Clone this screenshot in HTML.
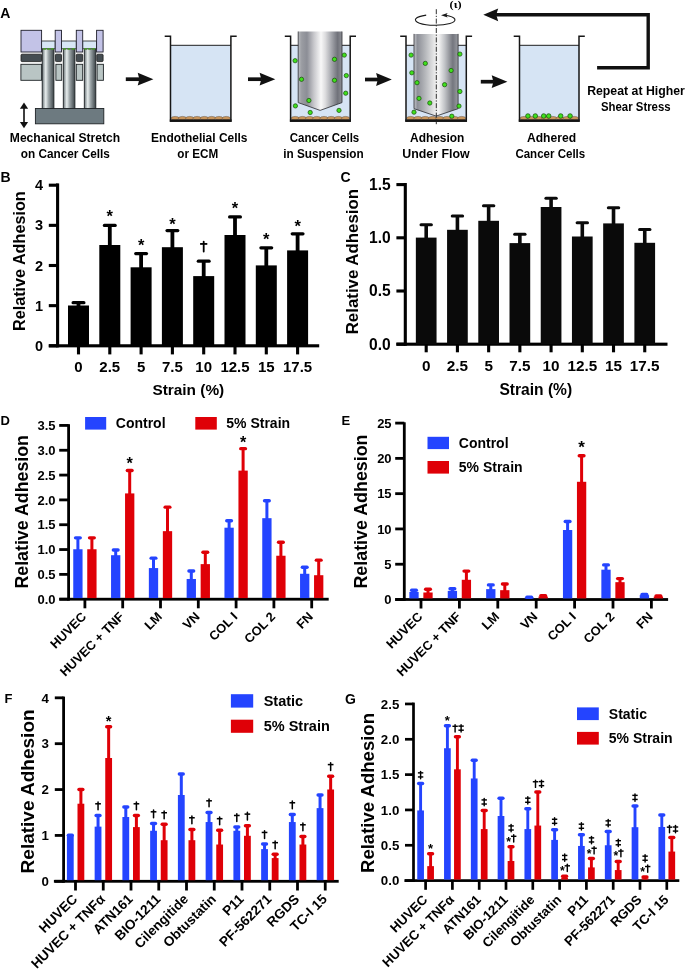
<!DOCTYPE html><html><head><meta charset="utf-8"><style>html,body{margin:0;padding:0;background:#fff;}svg{display:block;font-family:"Liberation Sans",sans-serif;}</style></head><body>
<svg width="685" height="975" viewBox="0 0 685 975" style="will-change:transform" font-family="Liberation Sans" font-weight="bold">
<defs>
<linearGradient id="gcyl" x1="0" x2="1" y1="0" y2="0"><stop offset="0" stop-color="#6b7478"/><stop offset="0.3" stop-color="#e8eeee"/><stop offset="0.55" stop-color="#9aa3a6"/><stop offset="1" stop-color="#3c4448"/></linearGradient>
<linearGradient id="gcyl2" x1="0" x2="1" y1="0" y2="0"><stop offset="0" stop-color="#b8babe"/><stop offset="0.08" stop-color="#9a9ca2"/><stop offset="0.2" stop-color="#8c8e96"/><stop offset="0.36" stop-color="#c8c8cc"/><stop offset="0.52" stop-color="#f8f8f8"/><stop offset="0.62" stop-color="#dcdcde"/><stop offset="0.76" stop-color="#a4a6ac"/><stop offset="0.9" stop-color="#70727a"/><stop offset="1" stop-color="#8e9096"/></linearGradient>
<linearGradient id="gcyl3" x1="0" x2="1" y1="0" y2="0"><stop offset="0" stop-color="#c4c6ca"/><stop offset="0.08" stop-color="#8e9098"/><stop offset="0.25" stop-color="#b4b6ba"/><stop offset="0.48" stop-color="#ececec"/><stop offset="0.56" stop-color="#f4f4f4"/><stop offset="0.7" stop-color="#c0c2c6"/><stop offset="0.88" stop-color="#74767e"/><stop offset="1" stop-color="#9a9ca2"/></linearGradient>
</defs>
<rect width="685" height="975" fill="#fff"/>
<text x="0.2" y="17.5" font-size="14" text-anchor="start" >A</text>
<rect x="42.2" y="48.5" width="11.7" height="60.5" fill="url(#gcyl)" stroke="#1e2326" stroke-width="0.9"/>
<rect x="63.3" y="48.5" width="11.6" height="60.5" fill="url(#gcyl)" stroke="#1e2326" stroke-width="0.9"/>
<rect x="84.3" y="48.5" width="11.5" height="60.5" fill="url(#gcyl)" stroke="#1e2326" stroke-width="0.9"/>
<rect x="41.6" y="41" width="13.6" height="7.8" fill="#d8e6f5" stroke="#222" stroke-width="0.8"/>
<ellipse cx="44.6" cy="48.9" rx="1.6" ry="0.9" fill="#4a9a2a"/>
<ellipse cx="48.4" cy="48.9" rx="1.6" ry="0.9" fill="#4a9a2a"/>
<ellipse cx="52.2" cy="48.9" rx="1.6" ry="0.9" fill="#4a9a2a"/>
<rect x="61.5" y="41" width="14.8" height="7.8" fill="#d8e6f5" stroke="#222" stroke-width="0.8"/>
<ellipse cx="64.5" cy="48.9" rx="1.6" ry="0.9" fill="#4a9a2a"/>
<ellipse cx="68.9" cy="48.9" rx="1.6" ry="0.9" fill="#4a9a2a"/>
<ellipse cx="73.3" cy="48.9" rx="1.6" ry="0.9" fill="#4a9a2a"/>
<rect x="82.7" y="41" width="13.9" height="7.8" fill="#d8e6f5" stroke="#222" stroke-width="0.8"/>
<ellipse cx="85.7" cy="48.9" rx="1.6" ry="0.9" fill="#4a9a2a"/>
<ellipse cx="89.65" cy="48.9" rx="1.6" ry="0.9" fill="#4a9a2a"/>
<ellipse cx="93.6" cy="48.9" rx="1.6" ry="0.9" fill="#4a9a2a"/>
<rect x="21" y="30.3" width="20.6" height="21.7" fill="#c3c3e7" stroke="#1e1e2a" stroke-width="0.9"/>
<rect x="55.2" y="30.3" width="6.3" height="21.7" fill="#c3c3e7" stroke="#1e1e2a" stroke-width="0.9"/>
<rect x="76.3" y="30.3" width="6.4" height="21.7" fill="#c3c3e7" stroke="#1e1e2a" stroke-width="0.9"/>
<rect x="96.6" y="30.3" width="6.5" height="21.7" fill="#c3c3e7" stroke="#1e1e2a" stroke-width="0.9"/>
<rect x="21" y="54.2" width="20.6" height="7.4" fill="#454d52" stroke="#1a1a1a" stroke-width="0.8" rx="1"/>
<rect x="55.4" y="54.2" width="6.1" height="7.4" fill="#454d52" stroke="#1a1a1a" stroke-width="0.8" rx="1"/>
<rect x="76.3" y="54.2" width="6.4" height="7.4" fill="#454d52" stroke="#1a1a1a" stroke-width="0.8" rx="1"/>
<rect x="96.8" y="54.2" width="6.3" height="7.4" fill="#454d52" stroke="#1a1a1a" stroke-width="0.8" rx="1"/>
<rect x="20.9" y="64.3" width="20.7" height="16" fill="#b9c5c4" stroke="#1e2326" stroke-width="0.9"/>
<rect x="55.9" y="64.3" width="5.8" height="16" fill="#b9c5c4" stroke="#1e2326" stroke-width="0.9"/>
<rect x="76.3" y="64.3" width="6.4" height="16" fill="#b9c5c4" stroke="#1e2326" stroke-width="0.9"/>
<rect x="97.1" y="64.3" width="6.3" height="16" fill="#b9c5c4" stroke="#1e2326" stroke-width="0.9"/>
<rect x="35.4" y="108.5" width="68.4" height="15.3" fill="#6d7a80" stroke="#1e2326" stroke-width="0.9"/>
<rect x="23.2" y="106" width="1.6" height="19" fill="#111" />
<path d="M24,102.6 L19.9,108.8 L28.1,108.8 Z" fill="#111"/>
<path d="M24,128.2 L19.9,122 L28.1,122 Z" fill="#111"/>
<text x="9.8" y="141.6" font-size="12.8" textLength="110.4" lengthAdjust="spacingAndGlyphs">Mechanical Stretch</text>
<text x="20.7" y="157.6" font-size="12.8" textLength="89.2" lengthAdjust="spacingAndGlyphs">on Cancer Cells</text>
<rect x="125.8" y="77.35" width="14.1" height="3.7" fill="#111" />
<path d="M153.4,79.2 L137.7,72.8 L139.4,79.2 L137.7,85.6 Z" fill="#111"/>
<rect x="170.5" y="45.3" width="60.4" height="75.7" fill="#d6e4f4" />
<line x1="170.5" y1="45.3" x2="230.9" y2="45.3" stroke="#1e1e1e" stroke-width="1" stroke-linecap="butt"/>
<ellipse cx="175.15" cy="118.3" rx="4.05" ry="1.9" fill="#c8955c" stroke="#5b4630" stroke-width="0.45"/>
<ellipse cx="182.45" cy="118.3" rx="4.05" ry="1.9" fill="#c8955c" stroke="#5b4630" stroke-width="0.45"/>
<ellipse cx="189.75" cy="118.3" rx="4.05" ry="1.9" fill="#c8955c" stroke="#5b4630" stroke-width="0.45"/>
<ellipse cx="197.05" cy="118.3" rx="4.05" ry="1.9" fill="#c8955c" stroke="#5b4630" stroke-width="0.45"/>
<ellipse cx="204.35" cy="118.3" rx="4.05" ry="1.9" fill="#c8955c" stroke="#5b4630" stroke-width="0.45"/>
<ellipse cx="211.65" cy="118.3" rx="4.05" ry="1.9" fill="#c8955c" stroke="#5b4630" stroke-width="0.45"/>
<ellipse cx="218.95" cy="118.3" rx="4.05" ry="1.9" fill="#c8955c" stroke="#5b4630" stroke-width="0.45"/>
<ellipse cx="226.25" cy="118.3" rx="4.05" ry="1.9" fill="#c8955c" stroke="#5b4630" stroke-width="0.45"/>
<path d="M164.7,36.2 H170.5 V121 H230.9 V36.2 H236.7" fill="none" stroke="#161616" stroke-width="1.5"/>
<rect x="169.8" y="119.4" width="61.8" height="2.5" fill="#141414" />
<text x="151.1" y="141.5" font-size="12.8" textLength="96.4" lengthAdjust="spacingAndGlyphs">Endothelial Cells</text>
<text x="177.3" y="157.5" font-size="12.8" textLength="41" lengthAdjust="spacingAndGlyphs">or ECM</text>
<rect x="248" y="77.35" width="13.8" height="3.7" fill="#111" />
<path d="M275.3,79.2 L259.6,72.8 L261.3,79.2 L259.6,85.6 Z" fill="#111"/>
<rect x="290.6" y="45.3" width="59.6" height="75.7" fill="#d6e4f4" />
<line x1="290.6" y1="45.3" x2="350.2" y2="45.3" stroke="#1e1e1e" stroke-width="1" stroke-linecap="butt"/>
<ellipse cx="295.2" cy="118.3" rx="4" ry="1.9" fill="#c8955c" stroke="#5b4630" stroke-width="0.45"/>
<ellipse cx="302.4" cy="118.3" rx="4" ry="1.9" fill="#c8955c" stroke="#5b4630" stroke-width="0.45"/>
<ellipse cx="309.6" cy="118.3" rx="4" ry="1.9" fill="#c8955c" stroke="#5b4630" stroke-width="0.45"/>
<ellipse cx="316.8" cy="118.3" rx="4" ry="1.9" fill="#c8955c" stroke="#5b4630" stroke-width="0.45"/>
<ellipse cx="324" cy="118.3" rx="4" ry="1.9" fill="#c8955c" stroke="#5b4630" stroke-width="0.45"/>
<ellipse cx="331.2" cy="118.3" rx="4" ry="1.9" fill="#c8955c" stroke="#5b4630" stroke-width="0.45"/>
<ellipse cx="338.4" cy="118.3" rx="4" ry="1.9" fill="#c8955c" stroke="#5b4630" stroke-width="0.45"/>
<ellipse cx="345.6" cy="118.3" rx="4" ry="1.9" fill="#c8955c" stroke="#5b4630" stroke-width="0.45"/>
<path d="M284.8,36.2 H290.6 V121 H350.2 V36.2 H356" fill="none" stroke="#161616" stroke-width="1.5"/>
<rect x="289.9" y="119.4" width="61" height="2.5" fill="#141414" />
<path d="M298.2,31.5 H342 V102.6 L320.1,110.4 L298.2,102.6 Z" fill="url(#gcyl2)"/>
<path d="M298.2,31.5 V102.6 L320.1,110.4 L342,102.6 V31.5" fill="none" stroke="#2a2a2e" stroke-width="0.8"/>
<circle cx="295.1" cy="60.7" r="2.15" fill="#3fe01c" stroke="#184a0c" stroke-width="0.7"/>
<circle cx="301.5" cy="79.3" r="2.15" fill="#3fe01c" stroke="#184a0c" stroke-width="0.7"/>
<circle cx="308.9" cy="100.5" r="2.15" fill="#3fe01c" stroke="#184a0c" stroke-width="0.7"/>
<circle cx="295.4" cy="105.9" r="2.15" fill="#3fe01c" stroke="#184a0c" stroke-width="0.7"/>
<circle cx="310.2" cy="112.5" r="2.15" fill="#3fe01c" stroke="#184a0c" stroke-width="0.7"/>
<circle cx="334.5" cy="59.3" r="2.15" fill="#3fe01c" stroke="#184a0c" stroke-width="0.7"/>
<circle cx="334.5" cy="80.3" r="2.15" fill="#3fe01c" stroke="#184a0c" stroke-width="0.7"/>
<circle cx="344.3" cy="55.1" r="2.15" fill="#3fe01c" stroke="#184a0c" stroke-width="0.7"/>
<circle cx="346.3" cy="75.6" r="2.15" fill="#3fe01c" stroke="#184a0c" stroke-width="0.7"/>
<circle cx="345.7" cy="93.2" r="2.15" fill="#3fe01c" stroke="#184a0c" stroke-width="0.7"/>
<circle cx="339" cy="110.4" r="2.15" fill="#3fe01c" stroke="#184a0c" stroke-width="0.7"/>
<text x="289.8" y="141.6" font-size="12.8" textLength="69.4" lengthAdjust="spacingAndGlyphs">Cancer Cells</text>
<text x="283.15" y="157.6" font-size="12.8" textLength="80.5" lengthAdjust="spacingAndGlyphs">in Suspension</text>
<rect x="365" y="77.65" width="13.3" height="3.7" fill="#111" />
<path d="M391.8,79.5 L376.1,73.1 L377.8,79.5 L376.1,85.9 Z" fill="#111"/>
<rect x="406" y="45.3" width="60.3" height="75.7" fill="#d6e4f4" />
<line x1="406" y1="45.3" x2="466.3" y2="45.3" stroke="#1e1e1e" stroke-width="1" stroke-linecap="butt"/>
<ellipse cx="410.64" cy="118.3" rx="4.04" ry="1.9" fill="#c8955c" stroke="#5b4630" stroke-width="0.45"/>
<ellipse cx="417.93" cy="118.3" rx="4.04" ry="1.9" fill="#c8955c" stroke="#5b4630" stroke-width="0.45"/>
<ellipse cx="425.22" cy="118.3" rx="4.04" ry="1.9" fill="#c8955c" stroke="#5b4630" stroke-width="0.45"/>
<ellipse cx="432.51" cy="118.3" rx="4.04" ry="1.9" fill="#c8955c" stroke="#5b4630" stroke-width="0.45"/>
<ellipse cx="439.79" cy="118.3" rx="4.04" ry="1.9" fill="#c8955c" stroke="#5b4630" stroke-width="0.45"/>
<ellipse cx="447.08" cy="118.3" rx="4.04" ry="1.9" fill="#c8955c" stroke="#5b4630" stroke-width="0.45"/>
<ellipse cx="454.37" cy="118.3" rx="4.04" ry="1.9" fill="#c8955c" stroke="#5b4630" stroke-width="0.45"/>
<ellipse cx="461.66" cy="118.3" rx="4.04" ry="1.9" fill="#c8955c" stroke="#5b4630" stroke-width="0.45"/>
<path d="M400.2,36.2 H406 V121 H466.3 V36.2 H472.1" fill="none" stroke="#161616" stroke-width="1.5"/>
<rect x="405.3" y="119.4" width="61.7" height="2.5" fill="#141414" />
<path d="M414,33.9 H458.1 V108.7 L436.1,116.1 L414,108.7 Z" fill="url(#gcyl3)"/>
<path d="M414,33.9 V108.7 L436.1,116.1 L458.1,108.7 V33.9" fill="none" stroke="#2a2a2e" stroke-width="0.8"/>
<circle cx="411.1" cy="55.1" r="2.15" fill="#3fe01c" stroke="#184a0c" stroke-width="0.7"/>
<circle cx="411.8" cy="72.8" r="2.15" fill="#3fe01c" stroke="#184a0c" stroke-width="0.7"/>
<circle cx="417" cy="82.7" r="2.15" fill="#3fe01c" stroke="#184a0c" stroke-width="0.7"/>
<circle cx="425.3" cy="63.4" r="2.15" fill="#3fe01c" stroke="#184a0c" stroke-width="0.7"/>
<circle cx="419" cy="98.4" r="2.15" fill="#3fe01c" stroke="#184a0c" stroke-width="0.7"/>
<circle cx="429.8" cy="103" r="2.15" fill="#3fe01c" stroke="#184a0c" stroke-width="0.7"/>
<circle cx="414" cy="112.2" r="2.15" fill="#3fe01c" stroke="#184a0c" stroke-width="0.7"/>
<circle cx="444.6" cy="84.7" r="2.15" fill="#3fe01c" stroke="#184a0c" stroke-width="0.7"/>
<circle cx="451.1" cy="70.5" r="2.15" fill="#3fe01c" stroke="#184a0c" stroke-width="0.7"/>
<circle cx="459.9" cy="54.1" r="2.15" fill="#3fe01c" stroke="#184a0c" stroke-width="0.7"/>
<circle cx="459.9" cy="91.5" r="2.15" fill="#3fe01c" stroke="#184a0c" stroke-width="0.7"/>
<circle cx="459" cy="106.1" r="2.15" fill="#3fe01c" stroke="#184a0c" stroke-width="0.7"/>
<circle cx="451.8" cy="116.2" r="2.15" fill="#3fe01c" stroke="#184a0c" stroke-width="0.7"/>
<line x1="436.3" y1="9.2" x2="436.3" y2="124.2" stroke="#1a1a1a" stroke-width="0.9" stroke-dasharray="5,1.6,1.2,1.6"/>
<path d="M426.2,15.1 A19.8,5.4 0 1 0 445.5,15.3" fill="none" stroke="#1a1a1a" stroke-width="1.1"/>
<path d="M441.0,15.2 L447.6,12.9 L446.3,15.3 L447.6,17.6 Z" fill="#1a1a1a"/>
<text x="449.6" y="8.3" font-size="10" font-family="Liberation Serif" font-weight="bold" textLength="12" lengthAdjust="spacingAndGlyphs">(ι)</text>
<text x="410.05" y="141.8" font-size="12.8" textLength="54.3" lengthAdjust="spacingAndGlyphs">Adhesion</text>
<text x="402.2" y="157.8" font-size="12.8" textLength="67.4" lengthAdjust="spacingAndGlyphs">Under Flow</text>
<rect x="480.8" y="79.85" width="13.1" height="3.7" fill="#111" />
<path d="M507.4,81.7 L491.7,75.3 L493.4,81.7 L491.7,88.1 Z" fill="#111"/>
<rect x="519.5" y="45.3" width="59.5" height="75.7" fill="#d6e4f4" />
<line x1="519.5" y1="45.3" x2="579" y2="45.3" stroke="#1e1e1e" stroke-width="1" stroke-linecap="butt"/>
<ellipse cx="524.09" cy="118.3" rx="3.99" ry="1.9" fill="#c8955c" stroke="#5b4630" stroke-width="0.45"/>
<ellipse cx="531.28" cy="118.3" rx="3.99" ry="1.9" fill="#c8955c" stroke="#5b4630" stroke-width="0.45"/>
<ellipse cx="538.47" cy="118.3" rx="3.99" ry="1.9" fill="#c8955c" stroke="#5b4630" stroke-width="0.45"/>
<ellipse cx="545.66" cy="118.3" rx="3.99" ry="1.9" fill="#c8955c" stroke="#5b4630" stroke-width="0.45"/>
<ellipse cx="552.84" cy="118.3" rx="3.99" ry="1.9" fill="#c8955c" stroke="#5b4630" stroke-width="0.45"/>
<ellipse cx="560.03" cy="118.3" rx="3.99" ry="1.9" fill="#c8955c" stroke="#5b4630" stroke-width="0.45"/>
<ellipse cx="567.22" cy="118.3" rx="3.99" ry="1.9" fill="#c8955c" stroke="#5b4630" stroke-width="0.45"/>
<ellipse cx="574.41" cy="118.3" rx="3.99" ry="1.9" fill="#c8955c" stroke="#5b4630" stroke-width="0.45"/>
<path d="M513.7,36.2 H519.5 V121 H579 V36.2 H584.8" fill="none" stroke="#161616" stroke-width="1.5"/>
<rect x="518.8" y="119.4" width="60.9" height="2.5" fill="#141414" />
<circle cx="527.9" cy="116" r="2.3" fill="#3fe01c" stroke="#184a0c" stroke-width="0.7"/>
<circle cx="535.3" cy="116" r="2.3" fill="#3fe01c" stroke="#184a0c" stroke-width="0.7"/>
<circle cx="543.7" cy="116" r="2.3" fill="#3fe01c" stroke="#184a0c" stroke-width="0.7"/>
<circle cx="548.7" cy="116" r="2.3" fill="#3fe01c" stroke="#184a0c" stroke-width="0.7"/>
<circle cx="560.7" cy="116" r="2.3" fill="#3fe01c" stroke="#184a0c" stroke-width="0.7"/>
<circle cx="570.1" cy="116" r="2.3" fill="#3fe01c" stroke="#184a0c" stroke-width="0.7"/>
<text x="526.95" y="142" font-size="12.8" textLength="49.1" lengthAdjust="spacingAndGlyphs">Adhered</text>
<text x="515.4" y="157.9" font-size="12.8" textLength="69.8" lengthAdjust="spacingAndGlyphs">Cancer Cells</text>
<path d="M597.1,67.7 H648.2 V14.8 H495" fill="none" stroke="#111" stroke-width="3.4"/>
<path d="M483.3,14.8 L498.2,8.4 L496.2,14.8 L498.2,21.2 Z" fill="#111"/>
<text x="587.15" y="95.4" font-size="12.8" textLength="97.7" lengthAdjust="spacingAndGlyphs">Repeat at Higher</text>
<text x="600.95" y="111.2" font-size="12.8" textLength="69.7" lengthAdjust="spacingAndGlyphs">Shear Stress</text>
<rect x="56.05" y="183.4" width="3.1" height="163.95" fill="#000" />
<rect x="48.8" y="344.25" width="270.4" height="3.1" fill="#000" />
<rect x="48.8" y="344.25" width="8.8" height="3.1" fill="#000" />
<text x="43.2" y="350.9" font-size="14.5" text-anchor="end" >0</text>
<rect x="48.8" y="304.1" width="8.8" height="3.1" fill="#000" />
<text x="43.2" y="310.75" font-size="14.5" text-anchor="end" >1</text>
<rect x="48.8" y="263.95" width="8.8" height="3.1" fill="#000" />
<text x="43.2" y="270.6" font-size="14.5" text-anchor="end" >2</text>
<rect x="48.8" y="223.8" width="8.8" height="3.1" fill="#000" />
<text x="43.2" y="230.45" font-size="14.5" text-anchor="end" >3</text>
<rect x="48.8" y="183.65" width="8.8" height="3.1" fill="#000" />
<text x="43.2" y="190.3" font-size="14.5" text-anchor="end" >4</text>
<rect x="76.6" y="302.7" width="3.8" height="3.8" fill="#000" />
<line x1="73.1" y1="302.7" x2="83.9" y2="302.7" stroke="#000" stroke-width="3.2" stroke-linecap="round"/>
<rect x="68" y="305.5" width="21" height="40.3" fill="#000" />
<rect x="107.9" y="225.4" width="3.8" height="20.6" fill="#000" />
<line x1="104.4" y1="225.4" x2="115.2" y2="225.4" stroke="#000" stroke-width="3.2" stroke-linecap="round"/>
<rect x="99.3" y="245" width="21" height="100.8" fill="#000" />
<text x="109.8" y="222.28" font-size="16.49" text-anchor="middle" >*</text>
<rect x="139.2" y="253.6" width="3.8" height="14.7" fill="#000" />
<line x1="135.7" y1="253.6" x2="146.5" y2="253.6" stroke="#000" stroke-width="3.2" stroke-linecap="round"/>
<rect x="130.6" y="267.3" width="21" height="78.5" fill="#000" />
<text x="141.1" y="251.18" font-size="16.49" text-anchor="middle" >*</text>
<rect x="170.5" y="230.6" width="3.8" height="17.6" fill="#000" />
<line x1="167" y1="230.6" x2="177.8" y2="230.6" stroke="#000" stroke-width="3.2" stroke-linecap="round"/>
<rect x="161.9" y="247.2" width="21" height="98.6" fill="#000" />
<text x="172.4" y="229.68" font-size="16.49" text-anchor="middle" >*</text>
<rect x="201.8" y="261.2" width="3.8" height="15.9" fill="#000" />
<line x1="198.3" y1="261.2" x2="209.1" y2="261.2" stroke="#000" stroke-width="3.2" stroke-linecap="round"/>
<rect x="193.2" y="276.1" width="21" height="69.7" fill="#000" />
<line x1="203.7" y1="241.7" x2="203.7" y2="251.5" stroke="#000" stroke-width="1.8" stroke-linecap="round"/>
<line x1="200.1" y1="243.93" x2="207.3" y2="243.93" stroke="#000" stroke-width="1.8" stroke-linecap="butt"/>
<rect x="233.1" y="216.9" width="3.8" height="19.1" fill="#000" />
<line x1="229.6" y1="216.9" x2="240.4" y2="216.9" stroke="#000" stroke-width="3.2" stroke-linecap="round"/>
<rect x="224.5" y="235" width="21" height="110.8" fill="#000" />
<text x="235" y="213.78" font-size="16.49" text-anchor="middle" >*</text>
<rect x="264.4" y="247.8" width="3.8" height="18.6" fill="#000" />
<line x1="260.9" y1="247.8" x2="271.7" y2="247.8" stroke="#000" stroke-width="3.2" stroke-linecap="round"/>
<rect x="255.8" y="265.4" width="21" height="80.4" fill="#000" />
<text x="266.3" y="244.88" font-size="16.49" text-anchor="middle" >*</text>
<rect x="295.7" y="233.8" width="3.8" height="17.6" fill="#000" />
<line x1="292.2" y1="233.8" x2="303" y2="233.8" stroke="#000" stroke-width="3.2" stroke-linecap="round"/>
<rect x="287.1" y="250.4" width="21" height="95.4" fill="#000" />
<text x="297.6" y="231.68" font-size="16.49" text-anchor="middle" >*</text>
<rect x="76.95" y="345.8" width="3.1" height="8.6" fill="#000" />
<rect x="108.25" y="345.8" width="3.1" height="8.6" fill="#000" />
<rect x="139.55" y="345.8" width="3.1" height="8.6" fill="#000" />
<rect x="170.85" y="345.8" width="3.1" height="8.6" fill="#000" />
<rect x="202.15" y="345.8" width="3.1" height="8.6" fill="#000" />
<rect x="233.45" y="345.8" width="3.1" height="8.6" fill="#000" />
<rect x="264.75" y="345.8" width="3.1" height="8.6" fill="#000" />
<rect x="296.05" y="345.8" width="3.1" height="8.6" fill="#000" />
<text x="78.5" y="372.1" font-size="15" text-anchor="middle" >0</text>
<text x="109.8" y="372.1" font-size="15" text-anchor="middle" >2.5</text>
<text x="141.1" y="372.1" font-size="15" text-anchor="middle" >5</text>
<text x="172.4" y="372.1" font-size="15" text-anchor="middle" >7.5</text>
<text x="203.7" y="372.1" font-size="15" text-anchor="middle" >10</text>
<text x="235" y="372.1" font-size="15" text-anchor="middle" >12.5</text>
<text x="266.3" y="372.1" font-size="15" text-anchor="middle" >15</text>
<text x="297.6" y="372.1" font-size="15" text-anchor="middle" >17.5</text>
<text x="188.3" y="395.4" font-size="15.4" text-anchor="middle" >Strain (%)</text>
<text transform="translate(24.9,261.2) rotate(-90)" font-size="16.2" text-anchor="middle">Relative Adhesion</text>
<text x="0.5" y="182.2" font-size="14" text-anchor="start" >B</text>
<rect x="403.75" y="183" width="3.1" height="162.75" fill="#000" />
<rect x="396.4" y="342.65" width="271.1" height="3.1" fill="#000" />
<rect x="396.4" y="342.65" width="8.9" height="3.1" fill="#000" />
<text x="390.8" y="349.6" font-size="15.6" text-anchor="end" >0.0</text>
<rect x="396.4" y="289.45" width="8.9" height="3.1" fill="#000" />
<text x="390.8" y="296.4" font-size="15.6" text-anchor="end" >0.5</text>
<rect x="396.4" y="236.25" width="8.9" height="3.1" fill="#000" />
<text x="390.8" y="243.2" font-size="15.6" text-anchor="end" >1.0</text>
<rect x="396.4" y="183.05" width="8.9" height="3.1" fill="#000" />
<text x="390.8" y="190" font-size="15.6" text-anchor="end" >1.5</text>
<rect x="424.4" y="224.7" width="3.6" height="13.9" fill="#0a0a0a" />
<line x1="421" y1="224.7" x2="431.4" y2="224.7" stroke="#0a0a0a" stroke-width="3" stroke-linecap="round"/>
<rect x="415.85" y="237.6" width="20.7" height="106.6" fill="#0a0a0a" />
<rect x="455.62" y="216.1" width="3.6" height="14.7" fill="#0a0a0a" />
<line x1="452.22" y1="216.1" x2="462.62" y2="216.1" stroke="#0a0a0a" stroke-width="3" stroke-linecap="round"/>
<rect x="447.07" y="229.8" width="20.7" height="114.4" fill="#0a0a0a" />
<rect x="486.84" y="205.8" width="3.6" height="16" fill="#0a0a0a" />
<line x1="483.44" y1="205.8" x2="493.84" y2="205.8" stroke="#0a0a0a" stroke-width="3" stroke-linecap="round"/>
<rect x="478.29" y="220.8" width="20.7" height="123.4" fill="#0a0a0a" />
<rect x="518.06" y="234.3" width="3.6" height="9.8" fill="#0a0a0a" />
<line x1="514.66" y1="234.3" x2="525.06" y2="234.3" stroke="#0a0a0a" stroke-width="3" stroke-linecap="round"/>
<rect x="509.51" y="243.1" width="20.7" height="101.1" fill="#0a0a0a" />
<rect x="549.28" y="198.2" width="3.6" height="9.8" fill="#0a0a0a" />
<line x1="545.88" y1="198.2" x2="556.28" y2="198.2" stroke="#0a0a0a" stroke-width="3" stroke-linecap="round"/>
<rect x="540.73" y="207" width="20.7" height="137.2" fill="#0a0a0a" />
<rect x="580.5" y="222.7" width="3.6" height="14.8" fill="#0a0a0a" />
<line x1="577.1" y1="222.7" x2="587.5" y2="222.7" stroke="#0a0a0a" stroke-width="3" stroke-linecap="round"/>
<rect x="571.95" y="236.5" width="20.7" height="107.7" fill="#0a0a0a" />
<rect x="611.72" y="207.7" width="3.6" height="16.7" fill="#0a0a0a" />
<line x1="608.32" y1="207.7" x2="618.72" y2="207.7" stroke="#0a0a0a" stroke-width="3" stroke-linecap="round"/>
<rect x="603.17" y="223.4" width="20.7" height="120.8" fill="#0a0a0a" />
<rect x="642.94" y="229.6" width="3.6" height="14.2" fill="#0a0a0a" />
<line x1="639.54" y1="229.6" x2="649.94" y2="229.6" stroke="#0a0a0a" stroke-width="3" stroke-linecap="round"/>
<rect x="634.39" y="242.8" width="20.7" height="101.4" fill="#0a0a0a" />
<rect x="424.65" y="344.2" width="3.1" height="8.1" fill="#000" />
<rect x="455.87" y="344.2" width="3.1" height="8.1" fill="#000" />
<rect x="487.09" y="344.2" width="3.1" height="8.1" fill="#000" />
<rect x="518.31" y="344.2" width="3.1" height="8.1" fill="#000" />
<rect x="549.53" y="344.2" width="3.1" height="8.1" fill="#000" />
<rect x="580.75" y="344.2" width="3.1" height="8.1" fill="#000" />
<rect x="611.97" y="344.2" width="3.1" height="8.1" fill="#000" />
<rect x="643.19" y="344.2" width="3.1" height="8.1" fill="#000" />
<text x="426.2" y="370.9" font-size="15.3" text-anchor="middle" >0</text>
<text x="457.42" y="370.9" font-size="15.3" text-anchor="middle" >2.5</text>
<text x="488.64" y="370.9" font-size="15.3" text-anchor="middle" >5</text>
<text x="519.86" y="370.9" font-size="15.3" text-anchor="middle" >7.5</text>
<text x="551.08" y="370.9" font-size="15.3" text-anchor="middle" >10</text>
<text x="582.3" y="370.9" font-size="15.3" text-anchor="middle" >12.5</text>
<text x="613.52" y="370.9" font-size="15.3" text-anchor="middle" >15</text>
<text x="644.74" y="370.9" font-size="15.3" text-anchor="middle" >17.5</text>
<text x="535.8" y="395.3" font-size="15.6" text-anchor="middle" >Strain (%)</text>
<text transform="translate(358.2,261.6) rotate(-90)" font-size="16.85" text-anchor="middle">Relative Adhesion</text>
<text x="340.4" y="181.5" font-size="14" text-anchor="start" >C</text>
<rect x="67.2" y="424.2" width="2.8" height="176.4" fill="#000" />
<rect x="59.4" y="597.8" width="269.3" height="2.8" fill="#000" />
<rect x="59.2" y="597.8" width="9.4" height="2.8" fill="#000" />
<text x="55.5" y="603.8" font-size="13" text-anchor="end" >0.0</text>
<rect x="59.2" y="572.98" width="9.4" height="2.8" fill="#000" />
<text x="55.5" y="578.98" font-size="13" text-anchor="end" >0.5</text>
<rect x="59.2" y="548.15" width="9.4" height="2.8" fill="#000" />
<text x="55.5" y="554.15" font-size="13" text-anchor="end" >1.0</text>
<rect x="59.2" y="523.33" width="9.4" height="2.8" fill="#000" />
<text x="55.5" y="529.33" font-size="13" text-anchor="end" >1.5</text>
<rect x="59.2" y="498.5" width="9.4" height="2.8" fill="#000" />
<text x="55.5" y="504.5" font-size="13" text-anchor="end" >2.0</text>
<rect x="59.2" y="473.68" width="9.4" height="2.8" fill="#000" />
<text x="55.5" y="479.68" font-size="13" text-anchor="end" >2.5</text>
<rect x="59.2" y="448.85" width="9.4" height="2.8" fill="#000" />
<text x="55.5" y="454.85" font-size="13" text-anchor="end" >3.0</text>
<rect x="59.2" y="424.03" width="9.4" height="2.8" fill="#000" />
<text x="55.5" y="430.03" font-size="13" text-anchor="end" >3.5</text>
<rect x="76.4" y="537.85" width="3" height="12.4" fill="#2444ff" />
<line x1="75.55" y1="537.85" x2="80.25" y2="537.85" stroke="#2444ff" stroke-width="3.4" stroke-linecap="round"/>
<rect x="73.25" y="549.25" width="9.3" height="48.85" fill="#2444ff" />
<rect x="90.4" y="537.85" width="3" height="12.4" fill="#df0007" />
<line x1="89.55" y1="537.85" x2="94.25" y2="537.85" stroke="#df0007" stroke-width="3.4" stroke-linecap="round"/>
<rect x="87.25" y="549.25" width="9.3" height="48.85" fill="#df0007" />
<rect x="114.2" y="549.99" width="3" height="6.2" fill="#2444ff" />
<line x1="113.35" y1="549.99" x2="118.05" y2="549.99" stroke="#2444ff" stroke-width="3.4" stroke-linecap="round"/>
<rect x="111.05" y="555.2" width="9.3" height="42.9" fill="#2444ff" />
<rect x="128.2" y="470.47" width="3" height="23.94" fill="#df0007" />
<line x1="127.35" y1="470.47" x2="132.05" y2="470.47" stroke="#df0007" stroke-width="3.4" stroke-linecap="round"/>
<rect x="125.05" y="493.41" width="9.3" height="104.69" fill="#df0007" />
<text x="129.7" y="469.35" font-size="16.22" text-anchor="middle" >*</text>
<rect x="152" y="558.17" width="3" height="10.91" fill="#2444ff" />
<line x1="151.15" y1="558.17" x2="155.85" y2="558.17" stroke="#2444ff" stroke-width="3.4" stroke-linecap="round"/>
<rect x="148.85" y="568.08" width="9.3" height="30.02" fill="#2444ff" />
<rect x="166" y="507.13" width="3" height="25.03" fill="#df0007" />
<line x1="165.15" y1="507.13" x2="169.85" y2="507.13" stroke="#df0007" stroke-width="3.4" stroke-linecap="round"/>
<rect x="162.85" y="531.16" width="9.3" height="66.94" fill="#df0007" />
<rect x="189.8" y="571.05" width="3" height="8.93" fill="#2444ff" />
<line x1="188.95" y1="571.05" x2="193.65" y2="571.05" stroke="#2444ff" stroke-width="3.4" stroke-linecap="round"/>
<rect x="186.65" y="578.98" width="9.3" height="19.12" fill="#2444ff" />
<rect x="203.8" y="552.22" width="3" height="12.89" fill="#df0007" />
<line x1="202.95" y1="552.22" x2="207.65" y2="552.22" stroke="#df0007" stroke-width="3.4" stroke-linecap="round"/>
<rect x="200.65" y="564.12" width="9.3" height="33.99" fill="#df0007" />
<rect x="227.6" y="520.76" width="3" height="7.94" fill="#2444ff" />
<line x1="226.75" y1="520.76" x2="231.45" y2="520.76" stroke="#2444ff" stroke-width="3.4" stroke-linecap="round"/>
<rect x="224.45" y="527.7" width="9.3" height="70.4" fill="#2444ff" />
<rect x="241.6" y="448.66" width="3" height="22.95" fill="#df0007" />
<line x1="240.75" y1="448.66" x2="245.45" y2="448.66" stroke="#df0007" stroke-width="3.4" stroke-linecap="round"/>
<rect x="238.45" y="470.61" width="9.3" height="127.49" fill="#df0007" />
<text x="243.1" y="447.55" font-size="16.22" text-anchor="middle" >*</text>
<rect x="265.4" y="500.69" width="3" height="18.49" fill="#2444ff" />
<line x1="264.55" y1="500.69" x2="269.25" y2="500.69" stroke="#2444ff" stroke-width="3.4" stroke-linecap="round"/>
<rect x="262.25" y="518.18" width="9.3" height="79.92" fill="#2444ff" />
<rect x="279.4" y="542.31" width="3" height="14.43" fill="#df0007" />
<line x1="278.55" y1="542.31" x2="283.25" y2="542.31" stroke="#df0007" stroke-width="3.4" stroke-linecap="round"/>
<rect x="276.25" y="555.74" width="9.3" height="42.36" fill="#df0007" />
<rect x="303.2" y="567.24" width="3" height="7.54" fill="#2444ff" />
<line x1="302.35" y1="567.24" x2="307.05" y2="567.24" stroke="#2444ff" stroke-width="3.4" stroke-linecap="round"/>
<rect x="300.05" y="573.78" width="9.3" height="24.32" fill="#2444ff" />
<rect x="317.2" y="560.15" width="3" height="16.06" fill="#df0007" />
<line x1="316.35" y1="560.15" x2="321.05" y2="560.15" stroke="#df0007" stroke-width="3.4" stroke-linecap="round"/>
<rect x="314.05" y="575.21" width="9.3" height="22.89" fill="#df0007" />
<rect x="83.5" y="599.2" width="2.8" height="9.1" fill="#000" />
<rect x="121.3" y="599.2" width="2.8" height="9.1" fill="#000" />
<rect x="159.1" y="599.2" width="2.8" height="9.1" fill="#000" />
<rect x="196.9" y="599.2" width="2.8" height="9.1" fill="#000" />
<rect x="234.7" y="599.2" width="2.8" height="9.1" fill="#000" />
<rect x="272.5" y="599.2" width="2.8" height="9.1" fill="#000" />
<rect x="310.3" y="599.2" width="2.8" height="9.1" fill="#000" />
<text transform="translate(87.1,617.5) rotate(-45)" font-size="12.8" text-anchor="end">HUVEC</text>
<text transform="translate(124.9,617.5) rotate(-45)" font-size="12.8" text-anchor="end">HUVEC + TNF</text>
<text transform="translate(162.7,617.5) rotate(-45)" font-size="12.8" text-anchor="end">LM</text>
<text transform="translate(200.5,617.5) rotate(-45)" font-size="12.8" text-anchor="end">VN</text>
<text transform="translate(238.3,617.5) rotate(-45)" font-size="12.8" text-anchor="end">COL I</text>
<text transform="translate(276.1,617.5) rotate(-45)" font-size="12.8" text-anchor="end">COL 2</text>
<text transform="translate(313.9,617.5) rotate(-45)" font-size="12.8" text-anchor="end">FN</text>
<text transform="translate(27.5,511.8) rotate(-90)" font-size="17.8" text-anchor="middle">Relative Adhesion</text>
<text x="0.6" y="424.6" font-size="13" text-anchor="start" >D</text>
<rect x="85.1" y="417" width="21.1" height="12.6" fill="#2444ff" />
<text x="115.8" y="428.2" font-size="14" text-anchor="start" >Control</text>
<rect x="195.3" y="417" width="21.5" height="12.6" fill="#df0007" />
<text x="226.3" y="428.2" font-size="14" text-anchor="start" >5% Strain</text>
<rect x="402.9" y="422.3" width="2.8" height="178.6" fill="#000" />
<rect x="395.2" y="598.1" width="272.9" height="2.8" fill="#000" />
<rect x="395.2" y="598.1" width="9.1" height="2.8" fill="#000" />
<text x="391.6" y="604.1" font-size="13" text-anchor="end" >0</text>
<rect x="395.2" y="562.82" width="9.1" height="2.8" fill="#000" />
<text x="391.6" y="568.82" font-size="13" text-anchor="end" >5</text>
<rect x="395.2" y="527.54" width="9.1" height="2.8" fill="#000" />
<text x="391.6" y="533.54" font-size="13" text-anchor="end" >10</text>
<rect x="395.2" y="492.26" width="9.1" height="2.8" fill="#000" />
<text x="391.6" y="498.26" font-size="13" text-anchor="end" >15</text>
<rect x="395.2" y="456.98" width="9.1" height="2.8" fill="#000" />
<text x="391.6" y="462.98" font-size="13" text-anchor="end" >20</text>
<rect x="395.2" y="421.7" width="9.1" height="2.8" fill="#000" />
<text x="391.6" y="427.7" font-size="13" text-anchor="end" >25</text>
<rect x="412.5" y="590.18" width="3" height="2.75" fill="#2444ff" />
<line x1="411.65" y1="590.18" x2="416.35" y2="590.18" stroke="#2444ff" stroke-width="3.4" stroke-linecap="round"/>
<rect x="409.35" y="591.93" width="9.3" height="6.47" fill="#2444ff" />
<rect x="426.5" y="589.26" width="3" height="4.23" fill="#df0007" />
<line x1="425.65" y1="589.26" x2="430.35" y2="589.26" stroke="#df0007" stroke-width="3.4" stroke-linecap="round"/>
<rect x="423.35" y="592.49" width="9.3" height="5.91" fill="#df0007" />
<rect x="450.9" y="588.7" width="3" height="3.18" fill="#2444ff" />
<line x1="450.05" y1="588.7" x2="454.75" y2="588.7" stroke="#2444ff" stroke-width="3.4" stroke-linecap="round"/>
<rect x="447.75" y="590.88" width="9.3" height="7.52" fill="#2444ff" />
<rect x="464.9" y="571.08" width="3" height="9.7" fill="#df0007" />
<line x1="464.05" y1="571.08" x2="468.75" y2="571.08" stroke="#df0007" stroke-width="3.4" stroke-linecap="round"/>
<rect x="461.75" y="579.79" width="9.3" height="18.61" fill="#df0007" />
<rect x="489.3" y="584.91" width="3" height="5.21" fill="#2444ff" />
<line x1="488.45" y1="584.91" x2="493.15" y2="584.91" stroke="#2444ff" stroke-width="3.4" stroke-linecap="round"/>
<rect x="486.15" y="589.12" width="9.3" height="9.28" fill="#2444ff" />
<rect x="503.3" y="584" width="3" height="7.18" fill="#df0007" />
<line x1="502.45" y1="584" x2="507.15" y2="584" stroke="#df0007" stroke-width="3.4" stroke-linecap="round"/>
<rect x="500.15" y="590.18" width="9.3" height="8.22" fill="#df0007" />
<rect x="527.7" y="597.2" width="3" height="1.42" fill="#2444ff" />
<line x1="526.85" y1="597.2" x2="531.55" y2="597.2" stroke="#2444ff" stroke-width="3.4" stroke-linecap="round"/>
<rect x="524.55" y="597.62" width="9.3" height="0.78" fill="#2444ff" />
<rect x="541.7" y="595.79" width="3" height="1.7" fill="#df0007" />
<line x1="540.85" y1="595.79" x2="545.55" y2="595.79" stroke="#df0007" stroke-width="3.4" stroke-linecap="round"/>
<rect x="538.55" y="596.49" width="9.3" height="1.91" fill="#df0007" />
<rect x="566.1" y="521.52" width="3" height="9.49" fill="#2444ff" />
<line x1="565.25" y1="521.52" x2="569.95" y2="521.52" stroke="#2444ff" stroke-width="3.4" stroke-linecap="round"/>
<rect x="562.95" y="530.01" width="9.3" height="68.39" fill="#2444ff" />
<rect x="580.1" y="455.81" width="3" height="26.97" fill="#df0007" />
<line x1="579.25" y1="455.81" x2="583.95" y2="455.81" stroke="#df0007" stroke-width="3.4" stroke-linecap="round"/>
<rect x="576.95" y="481.79" width="9.3" height="116.61" fill="#df0007" />
<text x="581.6" y="453.26" font-size="17.03" text-anchor="middle" >*</text>
<rect x="604.5" y="564.9" width="3" height="5.77" fill="#2444ff" />
<line x1="603.65" y1="564.9" x2="608.35" y2="564.9" stroke="#2444ff" stroke-width="3.4" stroke-linecap="round"/>
<rect x="601.35" y="569.68" width="9.3" height="28.72" fill="#2444ff" />
<rect x="618.5" y="578.59" width="3" height="4.58" fill="#df0007" />
<line x1="617.65" y1="578.59" x2="622.35" y2="578.59" stroke="#df0007" stroke-width="3.4" stroke-linecap="round"/>
<rect x="615.35" y="582.17" width="9.3" height="16.23" fill="#df0007" />
<rect x="642.9" y="594.39" width="3" height="1.7" fill="#2444ff" />
<line x1="642.05" y1="594.39" x2="646.75" y2="594.39" stroke="#2444ff" stroke-width="3.4" stroke-linecap="round"/>
<rect x="639.75" y="595.09" width="9.3" height="3.31" fill="#2444ff" />
<rect x="656.9" y="595.93" width="3" height="1.56" fill="#df0007" />
<line x1="656.05" y1="595.93" x2="660.75" y2="595.93" stroke="#df0007" stroke-width="3.4" stroke-linecap="round"/>
<rect x="653.75" y="596.49" width="9.3" height="1.91" fill="#df0007" />
<rect x="419.6" y="599.5" width="2.8" height="9" fill="#000" />
<rect x="458" y="599.5" width="2.8" height="9" fill="#000" />
<rect x="496.4" y="599.5" width="2.8" height="9" fill="#000" />
<rect x="534.8" y="599.5" width="2.8" height="9" fill="#000" />
<rect x="573.2" y="599.5" width="2.8" height="9" fill="#000" />
<rect x="611.6" y="599.5" width="2.8" height="9" fill="#000" />
<rect x="650" y="599.5" width="2.8" height="9" fill="#000" />
<text transform="translate(423.2,617.5) rotate(-45)" font-size="12.8" text-anchor="end">HUVEC</text>
<text transform="translate(461.6,617.5) rotate(-45)" font-size="12.8" text-anchor="end">HUVEC + TNF</text>
<text transform="translate(500,617.5) rotate(-45)" font-size="12.8" text-anchor="end">LM</text>
<text transform="translate(538.4,617.5) rotate(-45)" font-size="12.8" text-anchor="end">VN</text>
<text transform="translate(576.8,617.5) rotate(-45)" font-size="12.8" text-anchor="end">COL I</text>
<text transform="translate(615.2,617.5) rotate(-45)" font-size="12.8" text-anchor="end">COL 2</text>
<text transform="translate(653.6,617.5) rotate(-45)" font-size="12.8" text-anchor="end">FN</text>
<text transform="translate(367,511.5) rotate(-90)" font-size="17.85" text-anchor="middle">Relative Adhesion</text>
<text x="341.6" y="425.2" font-size="13" text-anchor="start" >E</text>
<rect x="427.5" y="436.8" width="21.5" height="12.3" fill="#2444ff" />
<text x="458.8" y="447.9" font-size="14" text-anchor="start" >Control</text>
<rect x="427.5" y="461" width="21.5" height="12.6" fill="#df0007" />
<text x="458.8" y="472.4" font-size="14" text-anchor="start" >5% Strain</text>
<rect x="62.2" y="696.6" width="2.8" height="186.1" fill="#000" />
<rect x="53.9" y="879.9" width="284.8" height="2.8" fill="#000" />
<rect x="54.8" y="879.9" width="8.8" height="2.8" fill="#000" />
<text x="48.9" y="886.1" font-size="13.3" text-anchor="end" >0</text>
<rect x="54.8" y="834.03" width="8.8" height="2.8" fill="#000" />
<text x="48.9" y="840.23" font-size="13.3" text-anchor="end" >1</text>
<rect x="54.8" y="788.16" width="8.8" height="2.8" fill="#000" />
<text x="48.9" y="794.36" font-size="13.3" text-anchor="end" >2</text>
<rect x="54.8" y="742.29" width="8.8" height="2.8" fill="#000" />
<text x="48.9" y="748.49" font-size="13.3" text-anchor="end" >3</text>
<rect x="54.8" y="696.42" width="8.8" height="2.8" fill="#000" />
<text x="48.9" y="702.62" font-size="13.3" text-anchor="end" >4</text>
<line x1="68.4" y1="835.27" x2="72.2" y2="835.27" stroke="#2444ff" stroke-width="3.5" stroke-linecap="round"/>
<rect x="66.9" y="835.27" width="6.8" height="44.93" fill="#2444ff" />
<rect x="79.4" y="789.5" width="3" height="15.21" fill="#df0007" />
<line x1="79" y1="789.5" x2="82.8" y2="789.5" stroke="#df0007" stroke-width="3.5" stroke-linecap="round"/>
<rect x="77.5" y="803.71" width="6.8" height="76.49" fill="#df0007" />
<rect x="96.55" y="815.41" width="3" height="12.23" fill="#2444ff" />
<line x1="96.15" y1="815.41" x2="99.95" y2="815.41" stroke="#2444ff" stroke-width="3.5" stroke-linecap="round"/>
<rect x="94.65" y="826.64" width="6.8" height="53.56" fill="#2444ff" />
<line x1="98.05" y1="802.06" x2="98.05" y2="809.75" stroke="#000" stroke-width="1.52" stroke-linecap="round"/>
<line x1="95.2" y1="803.79" x2="100.9" y2="803.79" stroke="#000" stroke-width="1.52" stroke-linecap="butt"/>
<rect x="107.15" y="726.69" width="3" height="32.32" fill="#df0007" />
<line x1="106.75" y1="726.69" x2="110.55" y2="726.69" stroke="#df0007" stroke-width="3.5" stroke-linecap="round"/>
<rect x="105.25" y="758" width="6.8" height="122.2" fill="#df0007" />
<text x="108.65" y="726.06" font-size="14.59" text-anchor="middle" >*</text>
<rect x="124.3" y="806.92" width="3" height="11.09" fill="#2444ff" />
<line x1="123.9" y1="806.92" x2="127.7" y2="806.92" stroke="#2444ff" stroke-width="3.5" stroke-linecap="round"/>
<rect x="122.4" y="817.01" width="6.8" height="63.19" fill="#2444ff" />
<rect x="134.9" y="815.41" width="3" height="12.69" fill="#df0007" />
<line x1="134.5" y1="815.41" x2="138.3" y2="815.41" stroke="#df0007" stroke-width="3.5" stroke-linecap="round"/>
<rect x="133" y="827.1" width="6.8" height="53.1" fill="#df0007" />
<line x1="136.4" y1="802.06" x2="136.4" y2="809.75" stroke="#000" stroke-width="1.52" stroke-linecap="round"/>
<line x1="133.55" y1="803.79" x2="139.25" y2="803.79" stroke="#000" stroke-width="1.52" stroke-linecap="butt"/>
<rect x="152.05" y="823.43" width="3" height="8.34" fill="#2444ff" />
<line x1="151.65" y1="823.43" x2="155.45" y2="823.43" stroke="#2444ff" stroke-width="3.5" stroke-linecap="round"/>
<rect x="150.15" y="830.77" width="6.8" height="49.43" fill="#2444ff" />
<line x1="153.55" y1="810.09" x2="153.55" y2="817.77" stroke="#000" stroke-width="1.52" stroke-linecap="round"/>
<line x1="150.7" y1="811.81" x2="156.4" y2="811.81" stroke="#000" stroke-width="1.52" stroke-linecap="butt"/>
<rect x="162.65" y="824.35" width="3" height="16.86" fill="#df0007" />
<line x1="162.25" y1="824.35" x2="166.05" y2="824.35" stroke="#df0007" stroke-width="3.5" stroke-linecap="round"/>
<rect x="160.75" y="840.21" width="6.8" height="39.99" fill="#df0007" />
<line x1="164.15" y1="811" x2="164.15" y2="818.69" stroke="#000" stroke-width="1.52" stroke-linecap="round"/>
<line x1="161.3" y1="812.73" x2="167" y2="812.73" stroke="#000" stroke-width="1.52" stroke-linecap="butt"/>
<rect x="179.8" y="773.91" width="3" height="22.09" fill="#2444ff" />
<line x1="179.4" y1="773.91" x2="183.2" y2="773.91" stroke="#2444ff" stroke-width="3.5" stroke-linecap="round"/>
<rect x="177.9" y="795" width="6.8" height="85.2" fill="#2444ff" />
<rect x="190.4" y="829.39" width="3" height="11.82" fill="#df0007" />
<line x1="190" y1="829.39" x2="193.8" y2="829.39" stroke="#df0007" stroke-width="3.5" stroke-linecap="round"/>
<rect x="188.5" y="840.21" width="6.8" height="39.99" fill="#df0007" />
<line x1="191.9" y1="816.05" x2="191.9" y2="823.73" stroke="#000" stroke-width="1.52" stroke-linecap="round"/>
<line x1="189.05" y1="817.77" x2="194.75" y2="817.77" stroke="#000" stroke-width="1.52" stroke-linecap="butt"/>
<rect x="207.55" y="812.43" width="3" height="10.63" fill="#2444ff" />
<line x1="207.15" y1="812.43" x2="210.95" y2="812.43" stroke="#2444ff" stroke-width="3.5" stroke-linecap="round"/>
<rect x="205.65" y="822.05" width="6.8" height="58.15" fill="#2444ff" />
<line x1="209.05" y1="799.08" x2="209.05" y2="806.77" stroke="#000" stroke-width="1.52" stroke-linecap="round"/>
<line x1="206.2" y1="800.81" x2="211.9" y2="800.81" stroke="#000" stroke-width="1.52" stroke-linecap="butt"/>
<rect x="218.15" y="830.31" width="3" height="15.21" fill="#df0007" />
<line x1="217.75" y1="830.31" x2="221.55" y2="830.31" stroke="#df0007" stroke-width="3.5" stroke-linecap="round"/>
<rect x="216.25" y="844.52" width="6.8" height="35.68" fill="#df0007" />
<line x1="219.65" y1="816.97" x2="219.65" y2="824.65" stroke="#000" stroke-width="1.52" stroke-linecap="round"/>
<line x1="216.8" y1="818.69" x2="222.5" y2="818.69" stroke="#000" stroke-width="1.52" stroke-linecap="butt"/>
<rect x="235.3" y="827.1" width="3" height="4.67" fill="#2444ff" />
<line x1="234.9" y1="827.1" x2="238.7" y2="827.1" stroke="#2444ff" stroke-width="3.5" stroke-linecap="round"/>
<rect x="233.4" y="830.77" width="6.8" height="49.43" fill="#2444ff" />
<line x1="236.8" y1="813.76" x2="236.8" y2="821.44" stroke="#000" stroke-width="1.52" stroke-linecap="round"/>
<line x1="233.95" y1="815.48" x2="239.65" y2="815.48" stroke="#000" stroke-width="1.52" stroke-linecap="butt"/>
<rect x="245.9" y="825.72" width="3" height="11.09" fill="#df0007" />
<line x1="245.5" y1="825.72" x2="249.3" y2="825.72" stroke="#df0007" stroke-width="3.5" stroke-linecap="round"/>
<rect x="244" y="835.81" width="6.8" height="44.39" fill="#df0007" />
<line x1="247.4" y1="812.38" x2="247.4" y2="820.06" stroke="#000" stroke-width="1.52" stroke-linecap="round"/>
<line x1="244.55" y1="814.11" x2="250.25" y2="814.11" stroke="#000" stroke-width="1.52" stroke-linecap="butt"/>
<rect x="263.05" y="844.06" width="3" height="6.04" fill="#2444ff" />
<line x1="262.65" y1="844.06" x2="266.45" y2="844.06" stroke="#2444ff" stroke-width="3.5" stroke-linecap="round"/>
<rect x="261.15" y="849.11" width="6.8" height="31.09" fill="#2444ff" />
<line x1="264.55" y1="830.72" x2="264.55" y2="838.4" stroke="#000" stroke-width="1.52" stroke-linecap="round"/>
<line x1="261.7" y1="832.45" x2="267.4" y2="832.45" stroke="#000" stroke-width="1.52" stroke-linecap="butt"/>
<rect x="273.65" y="854.29" width="3" height="4.81" fill="#df0007" />
<line x1="273.25" y1="854.29" x2="277.05" y2="854.29" stroke="#df0007" stroke-width="3.5" stroke-linecap="round"/>
<rect x="271.75" y="858.09" width="6.8" height="22.11" fill="#df0007" />
<line x1="275.15" y1="840.95" x2="275.15" y2="848.63" stroke="#000" stroke-width="1.52" stroke-linecap="round"/>
<line x1="272.3" y1="842.67" x2="278" y2="842.67" stroke="#000" stroke-width="1.52" stroke-linecap="butt"/>
<rect x="290.8" y="814.4" width="3" height="8.66" fill="#2444ff" />
<line x1="290.4" y1="814.4" x2="294.2" y2="814.4" stroke="#2444ff" stroke-width="3.5" stroke-linecap="round"/>
<rect x="288.9" y="822.05" width="6.8" height="58.15" fill="#2444ff" />
<line x1="292.3" y1="801.06" x2="292.3" y2="808.74" stroke="#000" stroke-width="1.52" stroke-linecap="round"/>
<line x1="289.45" y1="802.78" x2="295.15" y2="802.78" stroke="#000" stroke-width="1.52" stroke-linecap="butt"/>
<rect x="301.4" y="836.4" width="3" height="9.12" fill="#df0007" />
<line x1="301" y1="836.4" x2="304.8" y2="836.4" stroke="#df0007" stroke-width="3.5" stroke-linecap="round"/>
<rect x="299.5" y="844.52" width="6.8" height="35.68" fill="#df0007" />
<line x1="302.9" y1="823.06" x2="302.9" y2="830.75" stroke="#000" stroke-width="1.52" stroke-linecap="round"/>
<line x1="300.05" y1="824.79" x2="305.75" y2="824.79" stroke="#000" stroke-width="1.52" stroke-linecap="butt"/>
<rect x="318.55" y="795" width="3" height="14.11" fill="#2444ff" />
<line x1="318.15" y1="795" x2="321.95" y2="795" stroke="#2444ff" stroke-width="3.5" stroke-linecap="round"/>
<rect x="316.65" y="808.12" width="6.8" height="72.08" fill="#2444ff" />
<rect x="329.15" y="776.2" width="3" height="14.3" fill="#df0007" />
<line x1="328.75" y1="776.2" x2="332.55" y2="776.2" stroke="#df0007" stroke-width="3.5" stroke-linecap="round"/>
<rect x="327.25" y="789.5" width="6.8" height="90.7" fill="#df0007" />
<line x1="330.65" y1="762.86" x2="330.65" y2="770.54" stroke="#000" stroke-width="1.52" stroke-linecap="round"/>
<line x1="327.8" y1="764.59" x2="333.5" y2="764.59" stroke="#000" stroke-width="1.52" stroke-linecap="butt"/>
<rect x="74.1" y="881.3" width="2.8" height="9.2" fill="#000" />
<rect x="101.85" y="881.3" width="2.8" height="9.2" fill="#000" />
<rect x="129.6" y="881.3" width="2.8" height="9.2" fill="#000" />
<rect x="157.35" y="881.3" width="2.8" height="9.2" fill="#000" />
<rect x="185.1" y="881.3" width="2.8" height="9.2" fill="#000" />
<rect x="212.85" y="881.3" width="2.8" height="9.2" fill="#000" />
<rect x="240.6" y="881.3" width="2.8" height="9.2" fill="#000" />
<rect x="268.35" y="881.3" width="2.8" height="9.2" fill="#000" />
<rect x="296.1" y="881.3" width="2.8" height="9.2" fill="#000" />
<rect x="323.85" y="881.3" width="2.8" height="9.2" fill="#000" />
<text transform="translate(78.1,900) rotate(-45)" font-size="13.6" text-anchor="end">HUVEC</text>
<text transform="translate(105.85,900) rotate(-45)" font-size="13.6" text-anchor="end">HUVEC + TNFα</text>
<text transform="translate(133.6,900) rotate(-45)" font-size="13.6" text-anchor="end">ATN161</text>
<text transform="translate(161.35,900) rotate(-45)" font-size="13.6" text-anchor="end">BIO-1211</text>
<text transform="translate(189.1,900) rotate(-45)" font-size="13.6" text-anchor="end">Cilengitide</text>
<text transform="translate(216.85,900) rotate(-45)" font-size="13.6" text-anchor="end">Obtustatin</text>
<text transform="translate(244.6,900) rotate(-45)" font-size="13.6" text-anchor="end">P11</text>
<text transform="translate(272.35,900) rotate(-45)" font-size="13.6" text-anchor="end">PF-562271</text>
<text transform="translate(300.1,900) rotate(-45)" font-size="13.6" text-anchor="end">RGDS</text>
<text transform="translate(327.85,900) rotate(-45)" font-size="13.6" text-anchor="end">TC-I 15</text>
<text transform="translate(33.8,791.4) rotate(-90)" font-size="19.0" text-anchor="middle">Relative Adhesion</text>
<text x="4.6" y="702.8" font-size="13" text-anchor="start" >F</text>
<rect x="230.9" y="694.2" width="22.3" height="13.4" fill="#2444ff" />
<text x="263.7" y="706.2" font-size="14.5" text-anchor="start" >Static</text>
<rect x="230.9" y="719.7" width="22.3" height="13.1" fill="#df0007" />
<text x="263.7" y="731.2" font-size="14.5" text-anchor="start" >5% Strain</text>
<rect x="412.15" y="702.6" width="2.7" height="179.35" fill="#000" />
<rect x="404.4" y="879.25" width="274.9" height="2.7" fill="#000" />
<rect x="405" y="879.25" width="8.5" height="2.7" fill="#000" />
<text x="399.3" y="885.3" font-size="13.3" text-anchor="end" >0.0</text>
<rect x="405" y="843.92" width="8.5" height="2.7" fill="#000" />
<text x="399.3" y="849.97" font-size="13.3" text-anchor="end" >0.5</text>
<rect x="405" y="808.59" width="8.5" height="2.7" fill="#000" />
<text x="399.3" y="814.64" font-size="13.3" text-anchor="end" >1.0</text>
<rect x="405" y="773.26" width="8.5" height="2.7" fill="#000" />
<text x="399.3" y="779.31" font-size="13.3" text-anchor="end" >1.5</text>
<rect x="405" y="737.93" width="8.5" height="2.7" fill="#000" />
<text x="399.3" y="743.98" font-size="13.3" text-anchor="end" >2.0</text>
<rect x="405" y="702.6" width="8.5" height="2.7" fill="#000" />
<text x="399.3" y="708.65" font-size="13.3" text-anchor="end" >2.5</text>
<rect x="419.15" y="783.39" width="2.9" height="28.07" fill="#2444ff" />
<line x1="418.7" y1="783.39" x2="422.5" y2="783.39" stroke="#2444ff" stroke-width="3.5" stroke-linecap="round"/>
<rect x="417.25" y="810.45" width="6.7" height="69.1" fill="#2444ff" />
<line x1="420.6" y1="771.41" x2="420.6" y2="778.67" stroke="#000" stroke-width="1.44" stroke-linecap="round"/>
<line x1="417.9" y1="772.86" x2="423.3" y2="772.86" stroke="#000" stroke-width="1.44" stroke-linecap="butt"/>
<line x1="417.9" y1="776.95" x2="423.3" y2="776.95" stroke="#000" stroke-width="1.44" stroke-linecap="butt"/>
<rect x="429.15" y="853.69" width="2.9" height="13.44" fill="#df0007" />
<line x1="428.7" y1="853.69" x2="432.5" y2="853.69" stroke="#df0007" stroke-width="3.5" stroke-linecap="round"/>
<rect x="427.25" y="866.13" width="6.7" height="13.42" fill="#df0007" />
<text x="430.6" y="853.44" font-size="12.97" text-anchor="middle" >*</text>
<rect x="445.95" y="725.74" width="2.9" height="23.5" fill="#2444ff" />
<line x1="445.5" y1="725.74" x2="449.3" y2="725.74" stroke="#2444ff" stroke-width="3.5" stroke-linecap="round"/>
<rect x="444.05" y="748.24" width="6.7" height="131.31" fill="#2444ff" />
<text x="447.4" y="725.49" font-size="12.97" text-anchor="middle" >*</text>
<rect x="455.95" y="736.64" width="2.9" height="33.69" fill="#df0007" />
<line x1="455.5" y1="736.64" x2="459.3" y2="736.64" stroke="#df0007" stroke-width="3.5" stroke-linecap="round"/>
<rect x="454.05" y="769.33" width="6.7" height="110.22" fill="#df0007" />
<line x1="455.1" y1="724.66" x2="455.1" y2="731.92" stroke="#000" stroke-width="1.44" stroke-linecap="round"/>
<line x1="452.4" y1="726.29" x2="457.8" y2="726.29" stroke="#000" stroke-width="1.44" stroke-linecap="butt"/>
<line x1="461.1" y1="724.66" x2="461.1" y2="731.92" stroke="#000" stroke-width="1.44" stroke-linecap="round"/>
<line x1="458.4" y1="726.11" x2="463.8" y2="726.11" stroke="#000" stroke-width="1.44" stroke-linecap="butt"/>
<line x1="458.4" y1="730.2" x2="463.8" y2="730.2" stroke="#000" stroke-width="1.44" stroke-linecap="butt"/>
<rect x="472.75" y="760.19" width="2.9" height="19.28" fill="#2444ff" />
<line x1="472.3" y1="760.19" x2="476.1" y2="760.19" stroke="#2444ff" stroke-width="3.5" stroke-linecap="round"/>
<rect x="470.85" y="778.47" width="6.7" height="101.08" fill="#2444ff" />
<rect x="482.75" y="810.45" width="2.9" height="19.63" fill="#df0007" />
<line x1="482.3" y1="810.45" x2="486.1" y2="810.45" stroke="#df0007" stroke-width="3.5" stroke-linecap="round"/>
<rect x="480.85" y="829.08" width="6.7" height="50.47" fill="#df0007" />
<line x1="484.2" y1="798.47" x2="484.2" y2="805.74" stroke="#000" stroke-width="1.44" stroke-linecap="round"/>
<line x1="481.5" y1="799.93" x2="486.9" y2="799.93" stroke="#000" stroke-width="1.44" stroke-linecap="butt"/>
<line x1="481.5" y1="804.02" x2="486.9" y2="804.02" stroke="#000" stroke-width="1.44" stroke-linecap="butt"/>
<rect x="499.55" y="798.15" width="2.9" height="18.86" fill="#2444ff" />
<line x1="499.1" y1="798.15" x2="502.9" y2="798.15" stroke="#2444ff" stroke-width="3.5" stroke-linecap="round"/>
<rect x="497.65" y="816.01" width="6.7" height="63.54" fill="#2444ff" />
<rect x="509.55" y="846.66" width="2.9" height="15.34" fill="#df0007" />
<line x1="509.1" y1="846.66" x2="512.9" y2="846.66" stroke="#df0007" stroke-width="3.5" stroke-linecap="round"/>
<rect x="507.65" y="861" width="6.7" height="18.55" fill="#df0007" />
<line x1="513.7" y1="834.68" x2="513.7" y2="841.94" stroke="#000" stroke-width="1.44" stroke-linecap="round"/>
<line x1="511" y1="836.31" x2="516.4" y2="836.31" stroke="#000" stroke-width="1.44" stroke-linecap="butt"/>
<text x="508.7" y="845.65" font-size="12.16" text-anchor="middle" >*</text>
<line x1="511.1" y1="824.48" x2="511.1" y2="831.74" stroke="#000" stroke-width="1.44" stroke-linecap="round"/>
<line x1="508.4" y1="825.93" x2="513.8" y2="825.93" stroke="#000" stroke-width="1.44" stroke-linecap="butt"/>
<line x1="508.4" y1="830.02" x2="513.8" y2="830.02" stroke="#000" stroke-width="1.44" stroke-linecap="butt"/>
<rect x="526.35" y="808.7" width="2.9" height="21.39" fill="#2444ff" />
<line x1="525.9" y1="808.7" x2="529.7" y2="808.7" stroke="#2444ff" stroke-width="3.5" stroke-linecap="round"/>
<rect x="524.45" y="829.08" width="6.7" height="50.47" fill="#2444ff" />
<line x1="527.8" y1="796.71" x2="527.8" y2="803.98" stroke="#000" stroke-width="1.44" stroke-linecap="round"/>
<line x1="525.1" y1="798.17" x2="530.5" y2="798.17" stroke="#000" stroke-width="1.44" stroke-linecap="butt"/>
<line x1="525.1" y1="802.26" x2="530.5" y2="802.26" stroke="#000" stroke-width="1.44" stroke-linecap="butt"/>
<rect x="536.35" y="792.11" width="2.9" height="34.46" fill="#df0007" />
<line x1="535.9" y1="792.11" x2="539.7" y2="792.11" stroke="#df0007" stroke-width="3.5" stroke-linecap="round"/>
<rect x="534.45" y="825.57" width="6.7" height="53.98" fill="#df0007" />
<line x1="535.5" y1="780.12" x2="535.5" y2="787.39" stroke="#000" stroke-width="1.44" stroke-linecap="round"/>
<line x1="532.8" y1="781.76" x2="538.2" y2="781.76" stroke="#000" stroke-width="1.44" stroke-linecap="butt"/>
<line x1="541.5" y1="780.12" x2="541.5" y2="787.39" stroke="#000" stroke-width="1.44" stroke-linecap="round"/>
<line x1="538.8" y1="781.58" x2="544.2" y2="781.58" stroke="#000" stroke-width="1.44" stroke-linecap="butt"/>
<line x1="538.8" y1="785.67" x2="544.2" y2="785.67" stroke="#000" stroke-width="1.44" stroke-linecap="butt"/>
<rect x="553.15" y="829.79" width="2.9" height="11.12" fill="#2444ff" />
<line x1="552.7" y1="829.79" x2="556.5" y2="829.79" stroke="#2444ff" stroke-width="3.5" stroke-linecap="round"/>
<rect x="551.25" y="839.91" width="6.7" height="39.64" fill="#2444ff" />
<line x1="554.6" y1="817.8" x2="554.6" y2="825.07" stroke="#000" stroke-width="1.44" stroke-linecap="round"/>
<line x1="551.9" y1="819.26" x2="557.3" y2="819.26" stroke="#000" stroke-width="1.44" stroke-linecap="butt"/>
<line x1="551.9" y1="823.35" x2="557.3" y2="823.35" stroke="#000" stroke-width="1.44" stroke-linecap="butt"/>
<rect x="563.15" y="876.19" width="2.9" height="2.41" fill="#df0007" />
<line x1="562.7" y1="876.19" x2="566.5" y2="876.19" stroke="#df0007" stroke-width="3.5" stroke-linecap="round"/>
<rect x="561.25" y="877.59" width="6.7" height="1.96" fill="#df0007" />
<line x1="567.3" y1="864.2" x2="567.3" y2="871.47" stroke="#000" stroke-width="1.44" stroke-linecap="round"/>
<line x1="564.6" y1="865.83" x2="570" y2="865.83" stroke="#000" stroke-width="1.44" stroke-linecap="butt"/>
<text x="562.3" y="875.18" font-size="12.16" text-anchor="middle" >*</text>
<line x1="564.7" y1="854" x2="564.7" y2="861.27" stroke="#000" stroke-width="1.44" stroke-linecap="round"/>
<line x1="562" y1="855.46" x2="567.4" y2="855.46" stroke="#000" stroke-width="1.44" stroke-linecap="butt"/>
<line x1="562" y1="859.55" x2="567.4" y2="859.55" stroke="#000" stroke-width="1.44" stroke-linecap="butt"/>
<rect x="579.95" y="834.71" width="2.9" height="12.25" fill="#2444ff" />
<line x1="579.5" y1="834.71" x2="583.3" y2="834.71" stroke="#2444ff" stroke-width="3.5" stroke-linecap="round"/>
<rect x="578.05" y="845.96" width="6.7" height="33.59" fill="#2444ff" />
<line x1="581.4" y1="822.73" x2="581.4" y2="829.99" stroke="#000" stroke-width="1.44" stroke-linecap="round"/>
<line x1="578.7" y1="824.18" x2="584.1" y2="824.18" stroke="#000" stroke-width="1.44" stroke-linecap="butt"/>
<line x1="578.7" y1="828.27" x2="584.1" y2="828.27" stroke="#000" stroke-width="1.44" stroke-linecap="butt"/>
<rect x="589.95" y="858.61" width="2.9" height="9.79" fill="#df0007" />
<line x1="589.5" y1="858.61" x2="593.3" y2="858.61" stroke="#df0007" stroke-width="3.5" stroke-linecap="round"/>
<rect x="588.05" y="867.4" width="6.7" height="12.15" fill="#df0007" />
<line x1="594.1" y1="846.63" x2="594.1" y2="853.89" stroke="#000" stroke-width="1.44" stroke-linecap="round"/>
<line x1="591.4" y1="848.26" x2="596.8" y2="848.26" stroke="#000" stroke-width="1.44" stroke-linecap="butt"/>
<text x="589.1" y="857.6" font-size="12.16" text-anchor="middle" >*</text>
<line x1="591.5" y1="836.43" x2="591.5" y2="843.69" stroke="#000" stroke-width="1.44" stroke-linecap="round"/>
<line x1="588.8" y1="837.88" x2="594.2" y2="837.88" stroke="#000" stroke-width="1.44" stroke-linecap="butt"/>
<line x1="588.8" y1="841.97" x2="594.2" y2="841.97" stroke="#000" stroke-width="1.44" stroke-linecap="butt"/>
<rect x="606.75" y="831.4" width="2.9" height="14.85" fill="#2444ff" />
<line x1="606.3" y1="831.4" x2="610.1" y2="831.4" stroke="#2444ff" stroke-width="3.5" stroke-linecap="round"/>
<rect x="604.85" y="845.25" width="6.7" height="34.3" fill="#2444ff" />
<line x1="608.2" y1="819.42" x2="608.2" y2="826.69" stroke="#000" stroke-width="1.44" stroke-linecap="round"/>
<line x1="605.5" y1="820.88" x2="610.9" y2="820.88" stroke="#000" stroke-width="1.44" stroke-linecap="butt"/>
<line x1="605.5" y1="824.97" x2="610.9" y2="824.97" stroke="#000" stroke-width="1.44" stroke-linecap="butt"/>
<rect x="616.75" y="861.42" width="2.9" height="9.65" fill="#df0007" />
<line x1="616.3" y1="861.42" x2="620.1" y2="861.42" stroke="#df0007" stroke-width="3.5" stroke-linecap="round"/>
<rect x="614.85" y="870.07" width="6.7" height="9.48" fill="#df0007" />
<line x1="620.9" y1="849.44" x2="620.9" y2="856.7" stroke="#000" stroke-width="1.44" stroke-linecap="round"/>
<line x1="618.2" y1="851.07" x2="623.6" y2="851.07" stroke="#000" stroke-width="1.44" stroke-linecap="butt"/>
<text x="615.9" y="860.41" font-size="12.16" text-anchor="middle" >*</text>
<line x1="618.3" y1="839.24" x2="618.3" y2="846.5" stroke="#000" stroke-width="1.44" stroke-linecap="round"/>
<line x1="615.6" y1="840.7" x2="621" y2="840.7" stroke="#000" stroke-width="1.44" stroke-linecap="butt"/>
<line x1="615.6" y1="844.79" x2="621" y2="844.79" stroke="#000" stroke-width="1.44" stroke-linecap="butt"/>
<rect x="633.55" y="805.88" width="2.9" height="22.3" fill="#2444ff" />
<line x1="633.1" y1="805.88" x2="636.9" y2="805.88" stroke="#2444ff" stroke-width="3.5" stroke-linecap="round"/>
<rect x="631.65" y="827.19" width="6.7" height="52.36" fill="#2444ff" />
<line x1="635" y1="793.9" x2="635" y2="801.17" stroke="#000" stroke-width="1.44" stroke-linecap="round"/>
<line x1="632.3" y1="795.36" x2="637.7" y2="795.36" stroke="#000" stroke-width="1.44" stroke-linecap="butt"/>
<line x1="632.3" y1="799.45" x2="637.7" y2="799.45" stroke="#000" stroke-width="1.44" stroke-linecap="butt"/>
<rect x="643.55" y="876.89" width="2.9" height="2.41" fill="#df0007" />
<line x1="643.1" y1="876.89" x2="646.9" y2="876.89" stroke="#df0007" stroke-width="3.5" stroke-linecap="round"/>
<rect x="641.65" y="878.29" width="6.7" height="1.26" fill="#df0007" />
<line x1="647.7" y1="864.91" x2="647.7" y2="872.17" stroke="#000" stroke-width="1.44" stroke-linecap="round"/>
<line x1="645" y1="866.54" x2="650.4" y2="866.54" stroke="#000" stroke-width="1.44" stroke-linecap="butt"/>
<text x="642.7" y="875.88" font-size="12.16" text-anchor="middle" >*</text>
<line x1="645.1" y1="854.71" x2="645.1" y2="861.97" stroke="#000" stroke-width="1.44" stroke-linecap="round"/>
<line x1="642.4" y1="856.16" x2="647.8" y2="856.16" stroke="#000" stroke-width="1.44" stroke-linecap="butt"/>
<line x1="642.4" y1="860.25" x2="647.8" y2="860.25" stroke="#000" stroke-width="1.44" stroke-linecap="butt"/>
<rect x="660.35" y="815.02" width="2.9" height="12.95" fill="#2444ff" />
<line x1="659.9" y1="815.02" x2="663.7" y2="815.02" stroke="#2444ff" stroke-width="3.5" stroke-linecap="round"/>
<rect x="658.45" y="826.98" width="6.7" height="52.57" fill="#2444ff" />
<rect x="670.35" y="837.52" width="2.9" height="15.06" fill="#df0007" />
<line x1="669.9" y1="837.52" x2="673.7" y2="837.52" stroke="#df0007" stroke-width="3.5" stroke-linecap="round"/>
<rect x="668.45" y="851.58" width="6.7" height="27.97" fill="#df0007" />
<line x1="669.5" y1="825.54" x2="669.5" y2="832.8" stroke="#000" stroke-width="1.44" stroke-linecap="round"/>
<line x1="666.8" y1="827.17" x2="672.2" y2="827.17" stroke="#000" stroke-width="1.44" stroke-linecap="butt"/>
<line x1="675.5" y1="825.54" x2="675.5" y2="832.8" stroke="#000" stroke-width="1.44" stroke-linecap="round"/>
<line x1="672.8" y1="827" x2="678.2" y2="827" stroke="#000" stroke-width="1.44" stroke-linecap="butt"/>
<line x1="672.8" y1="831.08" x2="678.2" y2="831.08" stroke="#000" stroke-width="1.44" stroke-linecap="butt"/>
<rect x="424.25" y="880.6" width="2.7" height="9.2" fill="#000" />
<rect x="451.05" y="880.6" width="2.7" height="9.2" fill="#000" />
<rect x="477.85" y="880.6" width="2.7" height="9.2" fill="#000" />
<rect x="504.65" y="880.6" width="2.7" height="9.2" fill="#000" />
<rect x="531.45" y="880.6" width="2.7" height="9.2" fill="#000" />
<rect x="558.25" y="880.6" width="2.7" height="9.2" fill="#000" />
<rect x="585.05" y="880.6" width="2.7" height="9.2" fill="#000" />
<rect x="611.85" y="880.6" width="2.7" height="9.2" fill="#000" />
<rect x="638.65" y="880.6" width="2.7" height="9.2" fill="#000" />
<rect x="665.45" y="880.6" width="2.7" height="9.2" fill="#000" />
<text transform="translate(428.2,900.6) rotate(-45)" font-size="13.2" text-anchor="end">HUVEC</text>
<text transform="translate(455,900.6) rotate(-45)" font-size="13.2" text-anchor="end">HUVEC + TNFα</text>
<text transform="translate(481.8,900.6) rotate(-45)" font-size="13.2" text-anchor="end">ATN161</text>
<text transform="translate(508.6,900.6) rotate(-45)" font-size="13.2" text-anchor="end">BIO-1211</text>
<text transform="translate(535.4,900.6) rotate(-45)" font-size="13.2" text-anchor="end">Cilengitide</text>
<text transform="translate(562.2,900.6) rotate(-45)" font-size="13.2" text-anchor="end">Obtustatin</text>
<text transform="translate(589,900.6) rotate(-45)" font-size="13.2" text-anchor="end">P11</text>
<text transform="translate(615.8,900.6) rotate(-45)" font-size="13.2" text-anchor="end">PF-562271</text>
<text transform="translate(642.6,900.6) rotate(-45)" font-size="13.2" text-anchor="end">RGDS</text>
<text transform="translate(669.4,900.6) rotate(-45)" font-size="13.2" text-anchor="end">TC-I 15</text>
<text transform="translate(373.8,793) rotate(-90)" font-size="18.55" text-anchor="middle">Relative Adhesion</text>
<text x="345" y="703.6" font-size="14" text-anchor="start" >G</text>
<rect x="577" y="707.4" width="21.8" height="12.7" fill="#2444ff" />
<text x="608.8" y="718.7" font-size="14" text-anchor="start" >Static</text>
<rect x="577" y="731.9" width="21.8" height="12.7" fill="#df0007" />
<text x="608.8" y="743" font-size="14" text-anchor="start" >5% Strain</text>
</svg></body></html>
